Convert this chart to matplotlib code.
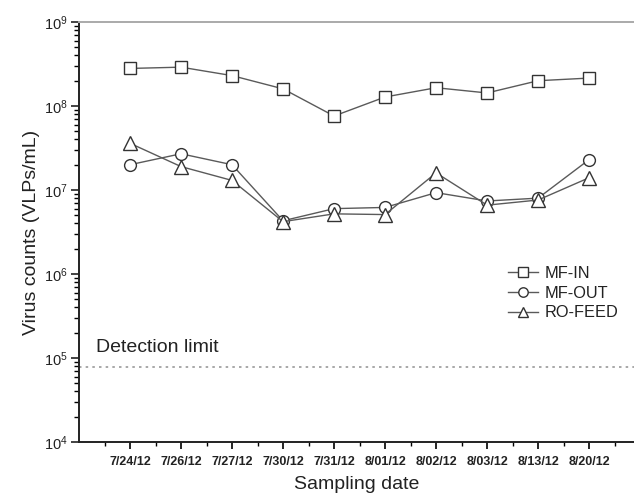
import matplotlib
matplotlib.use('Agg')
import matplotlib.pyplot as plt
from matplotlib.ticker import LogLocator, NullFormatter, FixedLocator
import numpy as np

plt.rcParams['font.family'] = ['Liberation Sans', 'DejaVu Sans']
plt.rcParams['mathtext.default'] = 'regular'

# data
dates = ['7/24/12', '7/26/12', '7/27/12', '7/30/12', '7/31/12',
         '8/01/12', '8/02/12', '8/03/12', '8/13/12', '8/20/12']
mf_in   = [2.8e8, 2.9e8, 2.3e8, 1.6e8, 7.6e7, 1.28e8, 1.65e8, 1.43e8, 2.0e8, 2.15e8]
mf_out  = [2.0e7, 2.7e7, 2.0e7, 4.3e6, 6.0e6, 6.2e6, 9.3e6, 7.4e6, 8.0e6, 2.3e7]
ro_feed = [3.6e7, 1.9e7, 1.3e7, 4.2e6, 5.2e6, 5.1e6, 1.6e7, 6.6e6, 7.6e6, 1.4e7]
detection_limit = 7.8e4

x = np.arange(1, len(dates) + 1)

fig = plt.figure(figsize=(6.34, 5.0), dpi=100, facecolor='white')
ax = fig.add_axes([0.1246, 0.116, 0.8754, 0.84])

line_c = '#5a5a5a'
mk = dict(markersize=8.5, markerfacecolor='white', markeredgecolor='#333333',
          markeredgewidth=1.0, color=line_c, linewidth=1.0)
ax.plot(x, mf_in, marker='s', label='MF-IN', **mk)
ax.plot(x, mf_out, marker='o', label='MF-OUT', **mk)
ax.plot(x, ro_feed, marker='^', label='RO-FEED', **dict(mk, markersize=9.5))

ax.axhline(detection_limit, color='#999999', linestyle=(0, (1.5, 2.5)), linewidth=1.2)
ax.text(0.33, 1.17e5, 'Detection limit', fontsize=14, color='#222222',
        va='baseline', ha='left')

ax.set_yscale('log')
ax.set_ylim(1e4, 1e9)
ax.set_xlim(0, 10.88)
ax.yaxis.set_major_locator(LogLocator(base=10, numticks=10))
ax.yaxis.set_minor_locator(LogLocator(base=10, subs=np.arange(2, 10), numticks=20))
ax.yaxis.set_minor_formatter(NullFormatter())

ax.set_xticks(x)
ax.set_xticklabels(dates, fontsize=9, fontweight='bold', color='#222222')
ax.xaxis.set_minor_locator(FixedLocator(np.arange(0.5, 11, 1.0)))

ax.tick_params(axis='y', which='major', direction='out', length=6, width=1.2,
               labelsize=10.5, pad=2, colors='#222222')
ax.tick_params(axis='y', which='minor', direction='out', length=3.5, width=1.0)
ax.tick_params(axis='x', which='major', direction='out', length=5, width=1.2, pad=5)
ax.tick_params(axis='x', which='minor', direction='out', length=3, width=1.0)

ax.spines['left'].set_color('#222222')
ax.spines['left'].set_linewidth(1.4)
ax.spines['bottom'].set_color('#222222')
ax.spines['bottom'].set_linewidth(1.4)
ax.spines['top'].set_color('#aaaaaa')
ax.spines['top'].set_linewidth(1.4)
ax.spines['right'].set_visible(False)

ax.set_xlabel('Sampling date', fontsize=14, color='#222222', labelpad=6)
ax.set_ylabel('Virus counts (VLPs/mL)', fontsize=14, color='#222222', labelpad=3)

leg = ax.legend(loc='upper left', bbox_to_anchor=(0.773, 0.42), frameon=False,
                fontsize=11.8, handlelength=1.85, handletextpad=0.4,
                labelspacing=0.3, borderaxespad=0, borderpad=0, markerscale=0.8)
for t in leg.get_texts():
    t.set_color('#222222')

plt.savefig('out.png', dpi=100, facecolor='white')
